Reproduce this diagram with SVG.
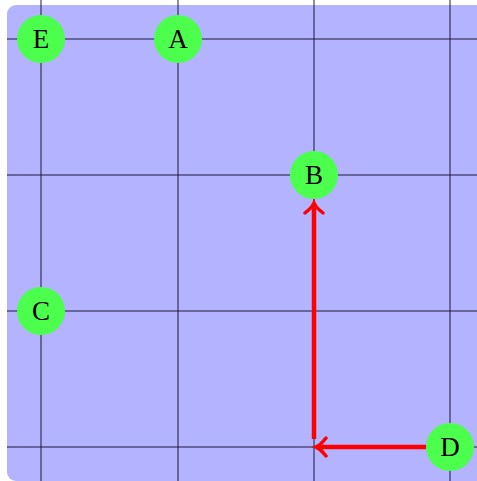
<svg xmlns="http://www.w3.org/2000/svg" width="477" height="481" viewBox="0 0 477 481">
<style>
.grid{stroke:#1a1a3a;stroke-width:1;fill:none}
.node circle{fill:#4dff4d}
.node text{font-family:"Liberation Serif","DejaVu Serif",serif;font-size:27px;fill:#000;text-anchor:middle;dominant-baseline:central}
.edge{stroke:#ff0000;stroke-width:4.5;fill:none;marker-end:url(#arr)}
</style>
<defs>
<marker id="arr" viewBox="-14 -12 18 24" markerWidth="18" markerHeight="24" refX="0" refY="0" orient="auto" markerUnits="userSpaceOnUse">
<path d="M-10,-9 Q-4,-1.5 0,0 Q-4,1.5 -10,9" stroke="#ff0000" stroke-width="3.5" fill="none" stroke-linecap="round"/>
</marker>
</defs>
<rect x="7" y="5" width="490" height="476" rx="9" fill="#b3b3ff"/>
<g id="grid">
<line class="grid" x1="41" y1="0" x2="41" y2="481"/>
<line class="grid" x1="178" y1="0" x2="178" y2="481"/>
<line class="grid" x1="314" y1="0" x2="314" y2="481"/>
<line class="grid" x1="450" y1="0" x2="450" y2="481"/>
<line class="grid" x1="7" y1="39" x2="477" y2="39"/>
<line class="grid" x1="7" y1="175" x2="477" y2="175"/>
<line class="grid" x1="7" y1="311" x2="477" y2="311"/>
<line class="grid" x1="7" y1="447" x2="477" y2="447"/>
</g>
<g id="connectors">
<path class="edge" d="M426,447 L316,447"/>
<path class="edge" d="M314,439 L314,203"/>
</g>
<g id="node-E" class="node"><circle cx="41" cy="39" r="24"/><text x="41" y="39">E</text></g>
<g id="node-A" class="node"><circle cx="178" cy="39" r="24"/><text x="178" y="39">A</text></g>
<g id="node-B" class="node"><circle cx="314" cy="175" r="24"/><text x="314" y="175">B</text></g>
<g id="node-C" class="node"><circle cx="41" cy="311" r="24"/><text x="41" y="311">C</text></g>
<g id="node-D" class="node"><circle cx="450" cy="447" r="24"/><text x="450" y="447">D</text></g>
</svg>
